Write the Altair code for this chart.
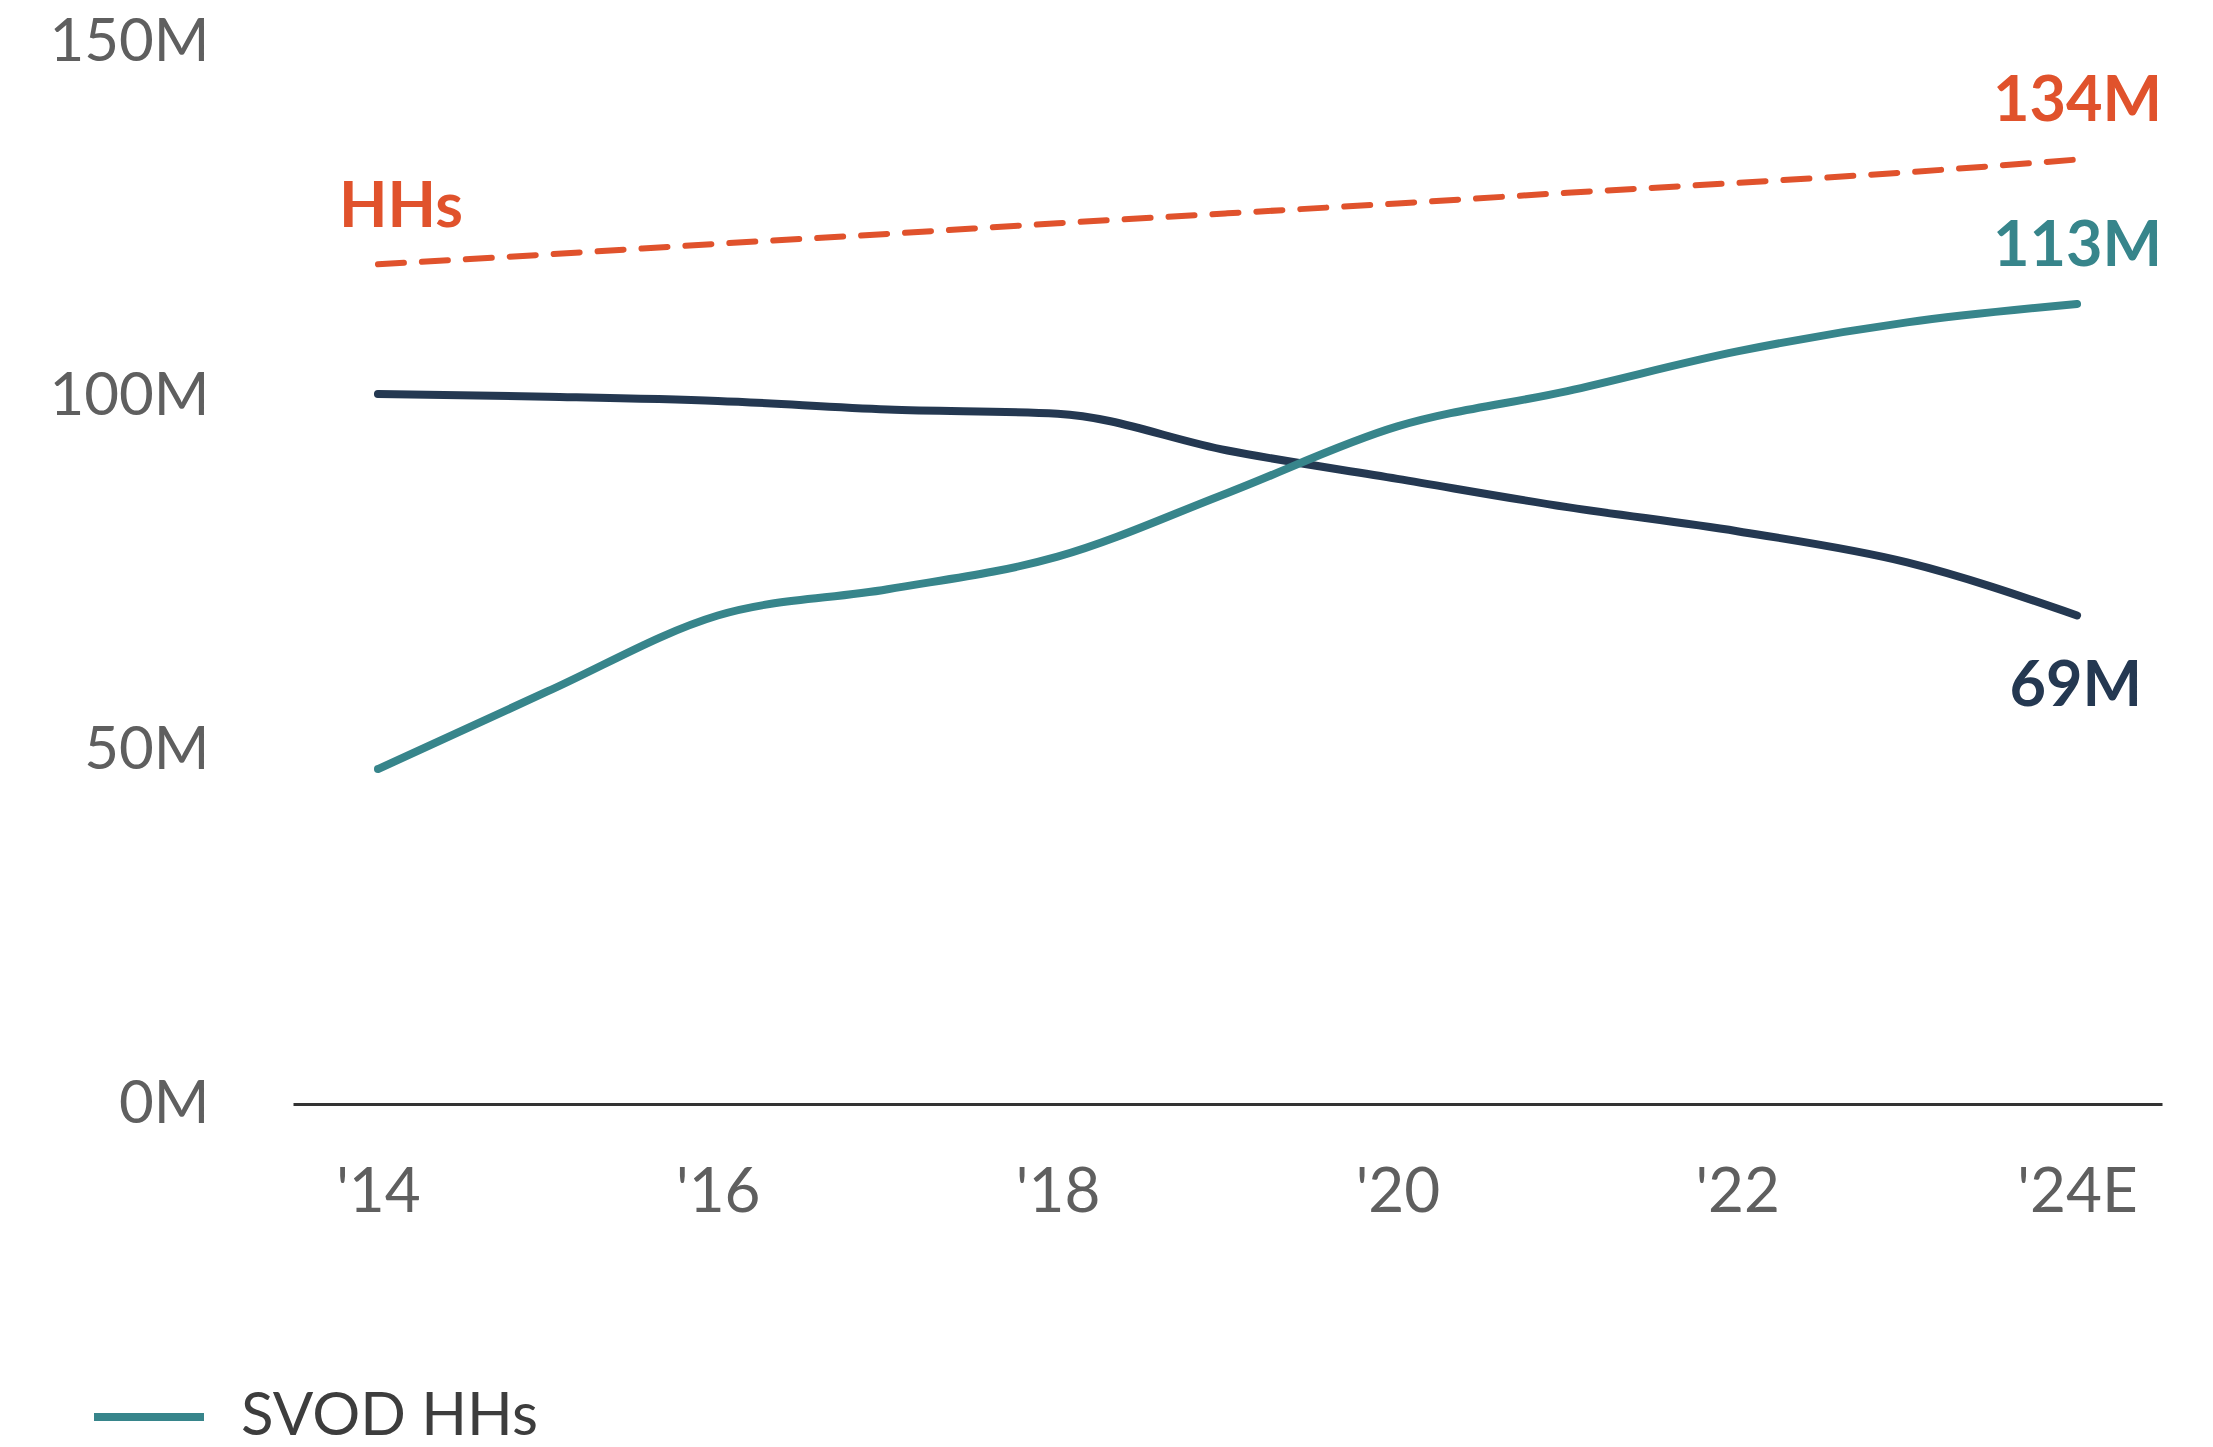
import json
import altair as alt
import pandas as pd

# ---- data ----
years = list(range(2014, 2025))
svod_hhs = [47.3, 58.3, 69.0, 72.7, 77.3, 86.3, 95.7, 100.7, 106.3, 110.4, 113.0]
paytv_hhs = [100.3, 99.9, 99.3, 98.1, 97.5, 92.3, 88.3, 84.3, 80.9, 76.5, 69.0]
total_hhs = [118.6, 120.0, 121.5, 122.9, 124.4, 125.8, 127.2, 128.7, 130.1, 131.6, 133.4]

tick_years = [2014, 2016, 2018, 2020, 2022, 2024]
tick_labels = ["'14", "'16", "'18", "'20", "'22", "'24E"]
y_ticks = [0, 50, 100, 150]

end_labels = ["134M", "113M", "69M"]
hh_name = "HHs"

ORANGE = "#E0522C"
TEAL = "#37858B"
NAVY = "#243851"
GRAY = "#5f5f5f"
FONT = "Lato"

svod_df = pd.DataFrame({"year": years, "value": svod_hhs, "series": "SVOD HHs"})
paytv_df = pd.DataFrame({"year": years, "value": paytv_hhs, "series": "Pay TV HHs"})
hh_df = pd.DataFrame({"year": years, "value": total_hhs, "series": "HHs"})

label_expr = json.dumps(tick_labels) + "[(datum.value - 2014) / 2]"

x = alt.X(
    "year:Q",
    scale=alt.Scale(domain=[2013.5, 2024.5], nice=False, zero=False),
    axis=alt.Axis(
        values=tick_years, labelExpr=label_expr, title=None, grid=False,
        ticks=False, domain=True, domainColor="#333333", domainWidth=3,
        labelFontSize=62, labelColor=GRAY, labelPadding=58, labelFont=FONT,
        labelFlush=False, labelBaseline="top",
    ),
)
y = alt.Y(
    "value:Q",
    scale=alt.Scale(domain=[0, 150], nice=False),
    axis=alt.Axis(
        values=y_ticks, labelExpr="datum.value + 'M'", title=None, grid=False,
        ticks=False, domain=False, labelFontSize=60, labelColor=GRAY,
        labelPadding=84, labelFont=FONT,
    ),
)

hh_line = alt.Chart(hh_df).mark_line(
    color=ORANGE, strokeWidth=6, strokeDash=[26, 18], interpolate="monotone", strokeCap="round"
).encode(x=x, y=y)

paytv_line = alt.Chart(paytv_df).mark_line(
    color=NAVY, strokeWidth=8, interpolate="monotone", strokeCap="round"
).encode(x=x, y=y)

svod_line = alt.Chart(svod_df).mark_line(
    strokeWidth=8, interpolate="monotone", strokeCap="round"
).encode(
    x=x, y=y,
    color=alt.Color(
        "series:N",
        scale=alt.Scale(domain=["SVOD HHs"], range=[TEAL]),
        legend=alt.Legend(
            orient="none", legendX=-203, legendY=1316, title=None,
            symbolType="stroke", symbolSize=12100, symbolStrokeWidth=8,
            labelFontSize=60, labelColor="#3d3d3d", labelFont=FONT, labelOffset=33,
            labelLimit=0,
        ),
    ),
)

hh_end = pd.DataFrame({"year": [years[-1]], "value": [total_hhs[-1]], "text": [end_labels[0]]})
svod_end = pd.DataFrame({"year": [years[-1]], "value": [svod_hhs[-1]], "text": [end_labels[1]]})
paytv_end = pd.DataFrame({"year": [years[-1]], "value": [paytv_hhs[-1]], "text": [end_labels[2]]})
hh_start = pd.DataFrame({"year": [years[0]], "value": [total_hhs[0]], "text": [hh_name]})


def label(df, color, dx, dy, align):
    return alt.Chart(df).mark_text(
        color=color, font=FONT, fontSize=63, fontWeight="bold", align=align,
        baseline="middle", dx=dx, dy=dy,
    ).encode(x=x, y=y, text="text:N")


chart = alt.layer(
    hh_line, paytv_line, svod_line,
    label(hh_end, ORANGE, 85, -58, "right"),
    label(svod_end, TEAL, 85, -57, "right"),
    label(paytv_end, NAVY, 65, 72, "right"),
    label(hh_start, ORANGE, -39, -56, "left"),
).properties(
    width=1869, height=1062,
    padding={"left": 293, "top": 42, "right": 51, "bottom": 343},
    autosize=alt.AutoSizeParams(type="none"),
    background="white",
).configure_view(stroke=None)

chart.save("out.html", embed_options={"renderer": "svg", "actions": False})
